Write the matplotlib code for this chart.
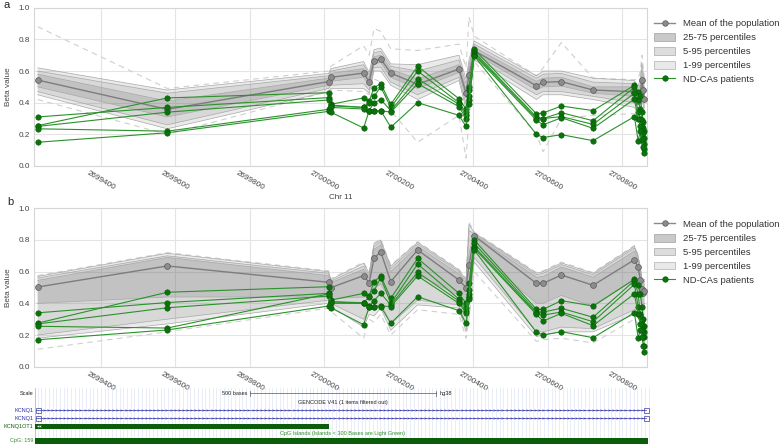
import matplotlib
matplotlib.use('Agg')
import matplotlib.pyplot as plt
from matplotlib.patches import Patch, Rectangle
from matplotlib.lines import Line2D

plt.rcParams['font.family'] = ['Liberation Sans', 'DejaVu Sans']

# ---------------- data ----------------
positions = [2699230, 2699578, 2700011, 2700017, 2700105, 2700120, 2700133, 2700151,
             2700178, 2700250, 2700361, 2700380, 2700388, 2700402, 2700569, 2700587,
             2700636, 2700721, 2700832, 2700842, 2700848, 2700852, 2700856, 2700859]
xticks = [2699400, 2699600, 2699800, 2700000, 2700200, 2700400, 2700600, 2700800]
yticks = [0.0, 0.2, 0.4, 0.6, 0.8, 1.0]

a_mean = [.543, .358, .533, .560, .587, .533, .665, .676, .587, .516, .613, .459, .573, .728, .507, .529, .533, .480, .469, .413, .460, .541, .480, .425]
a_q01 = [.45, .235, .47, .49, .49, .46, .60, .60, .51, .42, .54, .36, .47, .67, .42, .45, .45, .42, .37, .33, .36, .42, .38, .34]
a_q05 = [.47, .26, .49, .51, .52, .48, .62, .625, .53, .45, .56, .39, .50, .69, .45, .47, .47, .44, .40, .36, .39, .46, .41, .37]
a_q25 = [.50, .31, .51, .535, .56, .51, .645, .655, .56, .49, .59, .43, .54, .71, .48, .50, .505, .46, .44, .39, .43, .51, .45, .40]
a_q75 = [.58, .41, .555, .585, .615, .555, .69, .70, .61, .55, .64, .49, .61, .75, .535, .555, .56, .50, .50, .44, .49, .57, .51, .45]
a_q95 = [.60, .46, .57, .60, .64, .575, .715, .725, .63, .60, .67, .52, .64, .77, .555, .58, .585, .53, .52, .47, .52, .61, .54, .48]
a_q99 = [.62, .48, .585, .615, .66, .59, .735, .745, .645, .64, .70, .55, .67, .79, .57, .60, .60, .555, .54, .50, .56, .65, .58, .52]
a_min = [.42, .20, .47, .48, .47, .45, .55, .53, .35, .15, .32, .05, .30, .66, .20, .09, .30, .32, .33, .30, .30, .33, .34, .35]
a_max = [.88, .49, .60, .63, .76, .70, .87, .85, .74, .73, .77, .62, .94, .82, .57, .62, .78, .555, .545, .55, .60, .70, .62, .55]

a_pat1 = [.255, .43, .463, .39, .43, .41, .495, .52, .39, .63, .425, .36, .50, .737, .33, .335, .379, .35, .51, .47, .44, .34, .28, .22]
a_pat2 = [.31, .37, .432, .385, .37, .40, .44, .50, .37, .60, .40, .34, .48, .72, .31, .30, .337, .286, .497, .42, .36, .29, .24, .18]
a_pat3 = [.25, .34, .417, .38, .37, .35, .40, .42, .35, .55, .39, .32, .44, .71, .30, .30, .312, .263, .46, .34, .30, .25, .21, .14]
a_pat4 = [.235, .22, .358, .37, .36, .35, .35, .35, .34, .52, .375, .30, .42, .70, .29, .26, .305, .238, .423, .30, .25, .20, .16, .11]
a_pat5 = [.15, .21, .345, .34, .24, .35, .35, .35, .245, .40, .32, .25, .39, .695, .20, .18, .198, .16, .312, .16, .22, .17, .12, .08]

b_mean = [.503, .636, .533, .499, .575, .530, .684, .726, .537, .737, .547, .499, .642, .826, .526, .526, .579, .514, .675, .627, .547, .490, .463, .480]
b_q99 = [.57, .716, .60, .55, .653, .59, .775, .80, .635, .785, .61, .55, .90, .845, .59, .60, .655, .59, .76, .70, .62, .56, .53, .55]
b_q95 = [.56, .70, .59, .54, .635, .575, .76, .79, .62, .775, .60, .535, .86, .84, .58, .59, .645, .58, .75, .69, .61, .55, .52, .54]
b_q75 = [.545, .69, .575, .53, .615, .56, .74, .77, .60, .76, .585, .525, .72, .83, .565, .57, .63, .565, .73, .67, .59, .53, .50, .52]
b_q25 = [.40, .44, .44, .43, .44, .44, .50, .52, .42, .58, .45, .37, .52, .74, .40, .40, .45, .38, .55, .50, .44, .40, .38, .40]
b_q05 = [.20, .30, .42, .40, .30, .36, .37, .40, .27, .42, .39, .26, .42, .69, .22, .22, .25, .24, .36, .34, .30, .28, .26, .28]
b_q01 = [.18, .27, .40, .38, .25, .33, .32, .37, .23, .39, .37, .22, .38, .66, .19, .20, .22, .22, .33, .31, .27, .25, .23, .25]
b_min = [.11, .22, .37, .35, .18, .30, .28, .33, .20, .36, .33, .18, .30, .60, .16, .17, .18, .15, .30, .27, .23, .20, .19, .20]
b_max = [.575, .72, .605, .555, .66, .595, .78, .805, .64, .79, .615, .555, .91, .85, .595, .605, .66, .595, .765, .705, .625, .565, .535, .555]

b_pat1 = [.275, .47, .505, .42, .463, .446, .537, .573, .432, .684, .463, .40, .526, .80, .362, .362, .417, .383, .552, .516, .46, .38, .30, .26]
b_pat2 = [.34, .405, .463, .41, .404, .438, .478, .562, .40, .648, .427, .369, .484, .779, .347, .345, .369, .312, .543, .46, .33, .30, .26, .22]
b_pat3 = [.27, .372, .446, .41, .40, .383, .417, .463, .39, .596, .415, .352, .457, .758, .337, .326, .345, .284, .52, .38, .32, .27, .23, .19]
b_pat4 = [.255, .244, .46, .40, .40, .38, .38, .383, .38, .573, .40, .34, .44, .747, .33, .288, .337, .259, .461, .33, .27, .23, .19, .13]
b_pat5 = [.17, .232, .383, .372, .265, .38, .38, .38, .274, .442, .354, .274, .427, .737, .217, .20, .221, .183, .341, .183, .23, .19, .13, .095]

legend_labels = ['Mean of the population', '25-75 percentiles', '5-95 percentiles',
                 '1-99 percentiles', 'ND-CAs patients']

# genome browser track (hg38, chr11)
track_start, track_end = 2699223, 2700874
scale_start, scale_end = 2699800, 2700300
kcnq1_start, kcnq1_end = 2699226, 2700874
kcnq1ot1_start, kcnq1ot1_end = 2699224, 2700012
cpg_start, cpg_end = 2699224, 2700868

# ---------------- figure ----------------
W, H = 784, 444
fig = plt.figure(figsize=(W / 100, H / 100), dpi=100)

def px_axes(l, t, r, b):
    return fig.add_axes([l / W, 1 - b / H, (r - l) / W, (b - t) / H])

GREY_TXT = '#444444'
XL = (2699221, 2700865)

def draw_panel(ax, mean, q01, q05, q25, q75, q95, q99, vmin, vmax, pats, xlabel):
    x = positions
    ax.set_xlim(*XL)
    ax.set_ylim(0, 1)
    ax.grid(True, color='#e4e4e4', lw=0.8)
    ax.set_axisbelow(True)
    for s in ax.spines.values():
        s.set_color('#d6d6d6')
        s.set_linewidth(0.8)
    ax.plot(x, vmax, ls=(0, (5, 4)), color='#cfcfcf', lw=0.8, zorder=1)
    ax.plot(x, vmin, ls=(0, (5, 4)), color='#cfcfcf', lw=0.8, zorder=1)
    for lo, hi, a in [(q01, q99, 0.14), (q05, q95, 0.14), (q25, q75, 0.2)]:
        ax.fill_between(x, lo, hi, facecolor='#6e6e6e', alpha=a, edgecolor='none', zorder=2)
        ax.plot(x, lo, color='#a8a8a8', lw=0.5, zorder=2)
        ax.plot(x, hi, color='#a8a8a8', lw=0.5, zorder=2)
    ax.plot(x, mean, color='#7d7d7d', lw=1.0, marker='o', ms=4.2, mfc='#8c8c8c',
            mec='#5a5a5a', mew=0.5, zorder=4)
    for p in pats:
        ax.plot(x, p, color='#2a922a', lw=0.8, marker='o', ms=3.9, mfc='#0a740a',
                mec='#055805', mew=0.4, zorder=5)
    ax.set_xticks(xticks)
    ax.set_xticklabels([str(t) for t in xticks], rotation=-30, ha='center', fontsize=5.9,
                       color=GREY_TXT)
    ax.set_yticks(yticks)
    ax.set_yticklabels(['%.1f' % t for t in yticks], fontsize=5.9, color=GREY_TXT)
    ax.tick_params(length=0, pad=3)
    ax.set_ylabel('Beta value', fontsize=5.9, color=GREY_TXT, labelpad=5)
    if xlabel:
        ax.set_xlabel(xlabel, fontsize=5.9, color=GREY_TXT, labelpad=1)
    handles = [
        Line2D([], [], color='#8a8a8a', lw=1.0, marker='o', ms=4, mfc='#8c8c8c', mec='#5a5a5a', mew=0.5),
        Patch(facecolor='#c9c9c9', edgecolor='#a0a0a0', lw=0.5),
        Patch(facecolor='#dddddd', edgecolor='#a8a8a8', lw=0.5),
        Patch(facecolor='#e9e9e9', edgecolor='#b0b0b0', lw=0.5),
        Line2D([], [], color='#2a922a', lw=0.8, marker='o', ms=4, mfc='#0a740a', mec='#055805', mew=0.4),
    ]
    ax.legend(handles, legend_labels, loc='upper left', bbox_to_anchor=(1.0, 0.975),
              frameon=False, fontsize=6.8, handlelength=2.2, handleheight=0.9,
              handletextpad=0.8, labelspacing=0.5, borderaxespad=0.4,
              labelcolor='#333333')

ax_a = px_axes(34.3, 7.7, 646.7, 166)
draw_panel(ax_a, a_mean, a_q01, a_q05, a_q25, a_q75, a_q95, a_q99, a_min, a_max,
           [a_pat1, a_pat2, a_pat3, a_pat4, a_pat5], 'Chr 11')
ax_b = px_axes(34.3, 208.3, 646.7, 366.7)
draw_panel(ax_b, b_mean, b_q01, b_q05, b_q25, b_q75, b_q95, b_q99, b_min, b_max,
           [b_pat1, b_pat2, b_pat3, b_pat4, b_pat5], None)

fig.text(3 / W, 1 - 0.5 / H, 'a', fontsize=8, va='top', ha='left', color='#222222')
fig.text(7 / W, 1 - 197 / H, 'b', fontsize=8, va='top', ha='left', color='#222222')

# ---------------- genome browser track ----------------
tr = px_axes(35, 388, 650, 444)
tr.set_xlim(track_start, track_end)
tr.set_ylim(444, 388)
tr.axis('off')
for gx in range(2699230, 2700874, 10):
    tr.axvline(gx, color='#dfe6f6', lw=0.5, zorder=0)
tr.axvline(track_start + 1, color='#f2a0a0', lw=0.6, zorder=1)

TS = 4.0
lab_x = -0.003
# scale row
tr.text(lab_x, 393, 'Scale', transform=tr.get_yaxis_transform(), ha='right', va='center',
        fontsize=TS, color='#222222')
tr.plot([scale_start, scale_end], [393, 393], color='#555555', lw=0.5)
tr.plot([scale_start, scale_start], [390.5, 395.5], color='#555555', lw=0.5)
tr.plot([scale_end, scale_end], [390.5, 395.5], color='#555555', lw=0.5)
tr.text(scale_start - 6, 393, '500 bases', ha='right', va='center', fontsize=TS, color='#222222')
tr.text(scale_end + 8, 393, 'hg38', ha='left', va='center', fontsize=TS, color='#222222')
mid = (track_start + track_end) / 2
tr.text(mid, 402, 'GENCODE V41 (1 items filtered out)', ha='center', va='center', fontsize=TS,
        color='#222222')

# KCNQ1 transcripts
for yy in (410, 418):
    tr.text(lab_x, yy, 'KCNQ1', transform=tr.get_yaxis_transform(), ha='right', va='center',
            fontsize=TS, color='#2a2aa8')
    tr.plot([kcnq1_start, kcnq1_end - 10], [yy, yy], color='#3a3ab0', lw=0.5)
    tr.plot(list(range(kcnq1_start + 20, kcnq1_end - 15, 11)),
            [yy] * len(range(kcnq1_start + 20, kcnq1_end - 15, 11)),
            ls='none', marker='4', ms=2.2, mew=0.35, color='#3a3ab0')
    tr.add_patch(Rectangle((kcnq1_start, yy - 2.5), 12, 5, fill=False, ec='#3a3ab0', lw=0.5))
    tr.add_patch(Rectangle((kcnq1_end - 16, yy - 2.5), 14, 5, fill=False, ec='#3a3ab0', lw=0.5))

# KCNQ1OT1
tr.text(lab_x, 426, 'KCNQ1OT1', transform=tr.get_yaxis_transform(), ha='right', va='center',
        fontsize=TS, color='#0a5a0a')
tr.add_patch(Rectangle((kcnq1ot1_start, 423.5), kcnq1ot1_end - kcnq1ot1_start, 5,
                       fc='#0b5d0b', ec='none'))
tr.plot([kcnq1ot1_start + 6, kcnq1ot1_start + 13], [426, 426], ls='none', marker='3', ms=2,
        mew=0.4, color='white')

# CpG islands
tr.text(mid, 433, 'CpG Islands (Islands < 300 Bases are Light Green)', ha='center', va='center',
        fontsize=TS, color='#2f8f2f')
tr.text(lab_x, 440.5, 'CpG: 159', transform=tr.get_yaxis_transform(), ha='right', va='center',
        fontsize=TS, color='#2f8f2f')
tr.add_patch(Rectangle((cpg_start, 437.5), cpg_end - cpg_start, 6, fc='#0b5d0b', ec='none'))

fig.savefig('out.png', dpi=100)
